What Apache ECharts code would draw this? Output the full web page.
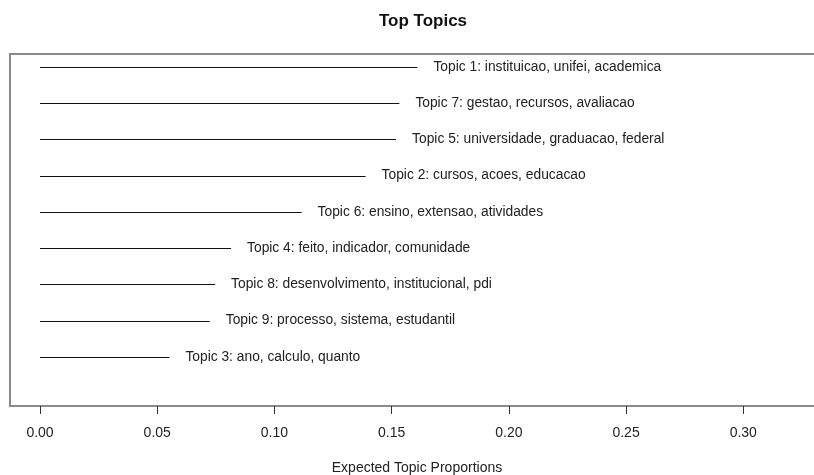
<!DOCTYPE html>
<html>
<head>
<meta charset="utf-8">
<script src="https://cdn.jsdelivr.net/npm/echarts@6/dist/echarts.min.js"></script>
<style>
html,body{margin:0;padding:0;background:#fff;}
#chart{width:814px;height:475px;}
</style>
</head>
<body>
<div id="chart"></div>
<script>
var topics = [
  "Topic 1: instituicao, unifei, academica",
  "Topic 7: gestao, recursos, avaliacao",
  "Topic 5: universidade, graduacao, federal",
  "Topic 2: cursos, acoes, educacao",
  "Topic 6: ensino, extensao, atividades",
  "Topic 4: feito, indicador, comunidade",
  "Topic 8: desenvolvimento, institucional, pdi",
  "Topic 9: processo, sistema, estudantil",
  "Topic 3: ano, calculo, quanto"
];
var proportions = [0.1610, 0.1533, 0.1519, 0.1389, 0.1116, 0.0815, 0.0747, 0.0724, 0.0552];
var tickValues = [0, 0.05, 0.10, 0.15, 0.20, 0.25, 0.30];

var FONT = '"Liberation Sans", Arial, sans-serif';
var data = topics.map(function (t, i) {
  return [proportions[i], topics.length - i, t];
});

var chart = echarts.init(document.getElementById('chart'), null, {renderer: 'canvas'});
chart.setOption({
  animation: false,
  backgroundColor: '#ffffff',
  title: {
    text: 'Top Topics',
    left: 418,
    top: 8,
    textAlign: 'center',
    textStyle: {fontFamily: FONT, fontSize: 17, fontWeight: 'bold', color: '#111'}
  },
  grid: {
    left: 10, right: -5, top: 54, bottom: 69,
    outerBoundsMode: 'none',
    containLabel: false,
    show: true, borderColor: '#8a8a8a', borderWidth: 2, backgroundColor: 'transparent'
  },
  xAxis: {
    type: 'value',
    min: -0.0128,
    max: 0.3323,
    position: 'bottom',
    splitLine: {show: false},
    axisLine: {show: false, onZero: false},
    axisTick: {show: true, customValues: tickValues, length: 8, inside: false,
      lineStyle: {color: '#333', width: 1}},
    axisLabel: {show: true, customValues: tickValues, margin: 20,
      fontFamily: FONT, fontSize: 14, color: '#222',
      formatter: function (v) { return v.toFixed(2); }},
    name: 'Expected Topic Proportions',
    nameLocation: 'middle',
    nameGap: 55,
    nameTextStyle: {fontFamily: FONT, fontSize: 14, color: '#222', padding: [0, 0, 0, 5]}
  },
  yAxis: {
    type: 'value',
    min: -0.36,
    max: 9.36,
    show: false
  },
  series: [{
    type: 'custom',
    data: data,
    clip: false,
    encode: {x: 0, y: 1},
    renderItem: function (params, api) {
      var v = api.value(0);
      var y = api.value(1);
      var p0 = api.coord([0, y]);
      var p1 = api.coord([v, y]);
      var yy = Math.round(p0[1]) + 0.5;
      var label = data[params.dataIndex][2];
      return {
        type: 'group',
        children: [{
          type: 'line',
          shape: {x1: p0[0], y1: yy, x2: p1[0], y2: yy},
          style: {stroke: '#111', lineWidth: 1.2}
        }, {
          type: 'text',
          x: p1[0] + 16,
          y: p1[1],
          style: {text: label, fill: '#222', font: '13.8px ' + FONT,
            textAlign: 'left', textVerticalAlign: 'middle'}
        }]
      };
    }
  }]
});
</script>
</body>
</html>
